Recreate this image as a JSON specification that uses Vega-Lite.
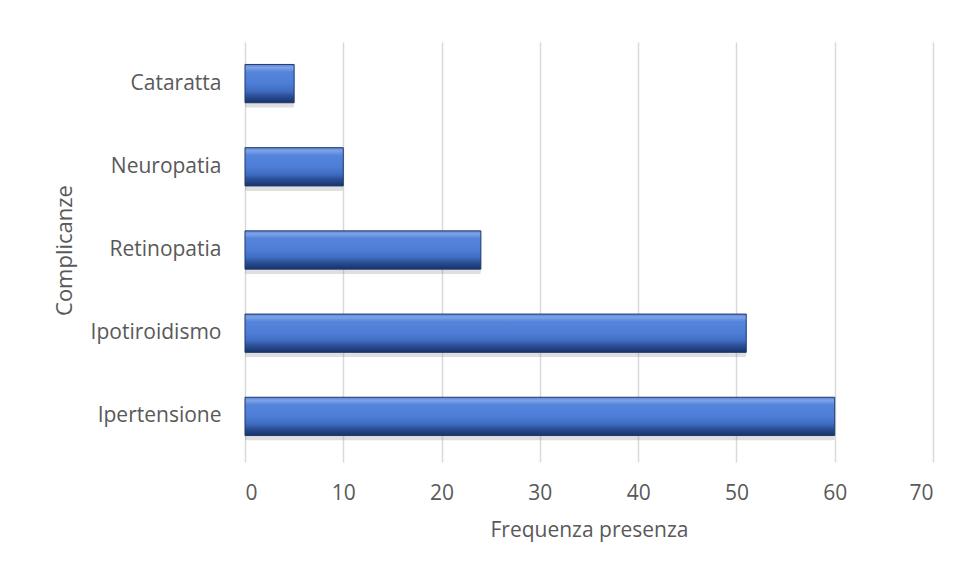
{
  "$schema": "https://vega.github.io/schema/vega-lite/v6.json",
  "width": 688,
  "height": 416,
  "autosize": {"type": "none"},
  "padding": {"left": 245, "top": 42, "right": 33, "bottom": 116},
  "background": "white",
  "config": {
    "view": {"stroke": null},
    "font": "Open Sans",
    "axis": {"labelFont": "Open Sans", "titleFont": "Open Sans", "labelColor": "#595959", "titleColor": "#595959", "titleFontWeight": "normal"}
  },
  "data": {
    "values": [
      {"complicanza": "Cataratta", "frequenza": 5},
      {"complicanza": "Neuropatia", "frequenza": 10},
      {"complicanza": "Retinopatia", "frequenza": 24},
      {"complicanza": "Ipotiroidismo", "frequenza": 51},
      {"complicanza": "Ipertensione", "frequenza": 60}
    ]
  },
  "encoding": {
    "y": {
      "field": "complicanza",
      "type": "nominal",
      "sort": ["Cataratta", "Neuropatia", "Retinopatia", "Ipotiroidismo", "Ipertensione"],
      "scale": {"paddingInner": 0.54, "paddingOuter": 0.27},
      "axis": {
        "title": "Complicanze",
        "titleFontSize": 22,
        "titlePadding": 14,
        "labelFontSize": 21,
        "labelPadding": 24,
        "ticks": false,
        "domain": false
      }
    },
    "x": {
      "field": "frequenza",
      "type": "quantitative",
      "scale": {"domain": [0, 70], "nice": false},
      "axis": {
        "title": "Frequenza presenza",
        "titleFontSize": 21,
        "titlePadding": 16,
        "labelFontSize": 21,
        "labelPadding": 20,
        "values": [0, 10, 20, 30, 40, 50, 60, 70],
        "labelOverlap": false,
        "grid": true,
        "gridColor": "#d9d9d9",
        "gridWidth": 1.5,
        "ticks": true,
        "tickColor": "#d9d9d9",
        "tickWidth": 1.5,
        "tickSize": 4,
        "domain": false
      }
    }
  },
  "layer": [
    {
      "mark": {"type": "bar", "color": "#7f7f7f", "opacity": 0.25, "yOffset": 5, "cornerRadius": 2},
      "encoding": {}
    },
    {
      "mark": {
        "type": "bar",
        "stroke": "#1f3a6e",
        "strokeWidth": 1,
        "color": {
          "gradient": "linear",
          "x1": 0, "y1": 0, "x2": 0, "y2": 1,
          "stops": [
            {"offset": 0, "color": "#5a84d6"},
            {"offset": 0.08, "color": "#7ea3e6"},
            {"offset": 0.2, "color": "#5584dc"},
            {"offset": 0.5, "color": "#4d7dd6"},
            {"offset": 0.7, "color": "#3f6cc0"},
            {"offset": 0.82, "color": "#2b4f98"},
            {"offset": 0.92, "color": "#203f7e"},
            {"offset": 1, "color": "#1a3366"}
          ]
        }
      },
      "encoding": {}
    }
  ]
}
